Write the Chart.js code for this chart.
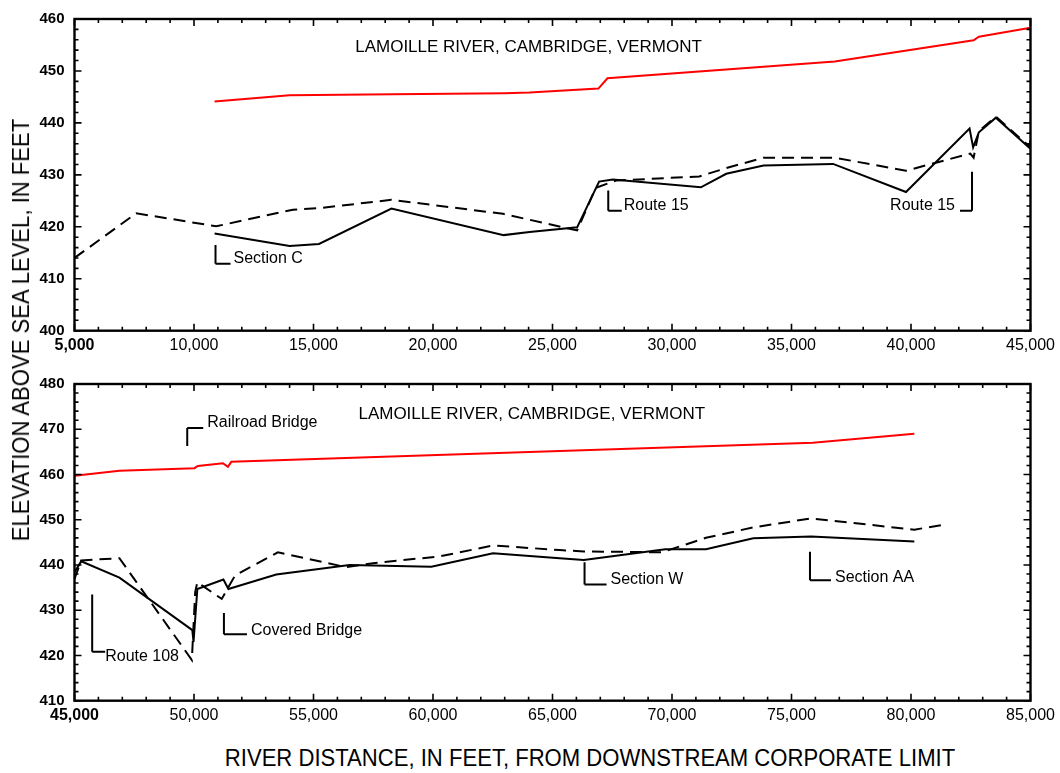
<!DOCTYPE html>
<html><head><meta charset="utf-8">
<script src="https://cdn.jsdelivr.net/npm/chart.js@4.4.0/dist/chart.umd.min.js"></script>
<style>
html,body{margin:0;padding:0;background:#fff;}
#wrap{position:relative;width:1060px;height:773px;overflow:hidden;font-family:"Liberation Sans",Arial,sans-serif;background:#fff;}
canvas{position:absolute;left:0;}
#c1{top:0;}
#c2{top:365px;}
.ttl{position:absolute;color:#000;white-space:nowrap;font-size:24px;line-height:24px;font-family:"Liberation Sans",Arial,sans-serif;}
#xt{left:590px;top:758px;transform:translate(-50%,-50%) scaleX(0.92);}
#yt{left:21px;top:330px;transform:translate(-50%,-50%) rotate(-90deg) scaleX(0.92);}
</style></head><body>
<div id="wrap">
<canvas id="c1" width="1060" height="365"></canvas>
<canvas id="c2" width="1060" height="370"></canvas>
<div id="xt" class="ttl">RIVER DISTANCE, IN FEET, FROM DOWNSTREAM CORPORATE LIMIT</div>
<div id="yt" class="ttl">ELEVATION ABOVE SEA LEVEL, IN FEET</div>
</div>
<script>
// ---------- DATA (river distance in feet, elevation in feet) ----------
// Upper panel
const topRedDist  = [10860, 14000, 18330, 23000, 24040, 26920, 27300, 36810, 42620, 42840, 45000];
const topRedElev  = [444.1, 445.3, 445.5, 445.7, 445.85, 446.6, 448.6, 451.8, 455.9, 456.6, 458.3];
const topBedDist  = [10860, 14000, 15230, 18260, 22960, 24040, 26030, 26950, 27520, 31210, 32270, 33830, 36740, 39790, 42450, 42600, 42840, 43550, 44950, 45000];
const topBedElev  = [418.7, 416.3, 416.7, 423.5, 418.4, 419.0, 419.9, 428.7, 429.1, 427.6, 430.2, 431.8, 432.1, 426.7, 438.9, 435.3, 438.2, 441.0, 435.2, 436.5];
const topDashDist = [5000, 7580, 10930, 14140, 15260, 18260, 22930, 26030, 26810, 27660, 31140, 32270, 33830, 36810, 39790, 42480, 42620, 42840, 43550, 44950, 45000];
const topDashElev = [414.0, 422.6, 420.1, 423.3, 423.6, 425.2, 422.5, 419.3, 427.5, 428.9, 429.7, 431.3, 433.3, 433.3, 430.8, 434.1, 433.3, 438.4, 441.2, 435.5, 437.0];
const topXTicks = [5000, 10000, 15000, 20000, 25000, 30000, 35000, 40000, 45000];
const topXLabels = ['5,000','10,000','15,000','20,000','25,000','30,000','35,000','40,000','45,000'];
const topYTicks = [400, 410, 420, 430, 440, 450, 460];
const topYLabels = ['400','410','420','430','440','450','460'];
// Lower panel
const botRedDist  = [45000, 46880, 50020, 50160, 51210, 51420, 51560, 65300, 75890, 80140];
const botRedElev  = [459.7, 460.85, 461.4, 461.9, 462.5, 461.7, 462.8, 465.2, 467.0, 469.0];
const botBedDist  = [45000, 45280, 46880, 49930, 49980, 50140, 51230, 51440, 53440, 56510, 59930, 62510, 65300, 66310, 69720, 71420, 73400, 75820, 80140];
const botBedElev  = [438.4, 440.8, 437.2, 425.6, 423.0, 434.7, 436.8, 434.7, 437.9, 440.0, 439.6, 442.6, 441.5, 441.1, 443.5, 443.5, 445.9, 446.3, 445.2];
const botDashDist = [45000, 45280, 46880, 49910, 50050, 50140, 50330, 51160, 51720, 53510, 56370, 57490, 60280, 62510, 65300, 66310, 69570, 71420, 73400, 75820, 80140, 81490];
const botDashElev = [436.9, 441.0, 441.5, 419.0, 434.0, 436.2, 435.5, 432.5, 437.7, 442.8, 439.5, 440.4, 441.9, 444.3, 443.3, 443.0, 442.8, 446.0, 448.3, 450.3, 447.8, 449.0];
const botXTicks = [45000, 50000, 55000, 60000, 65000, 70000, 75000, 80000, 85000];
const botXLabels = ['45,000','50,000','55,000','60,000','65,000','70,000','75,000','80,000','85,000'];
const botYTicks = [410, 420, 430, 440, 450, 460, 470, 480];
const botYLabels = ['410','420','430','440','450','460','470','480'];

const panelTitle = 'LAMOILLE RIVER, CAMBRIDGE, VERMONT';
// Annotation labels (bracket callouts), in data units
const topMarkers = [
  {text:'Section C', x:10900, y1:416.5, y2:412.9, armAt:'bottom', dir:1, arm:15, ty:413.8, gap:3},
  {text:'Route 15',  x:27333, y1:427.0, y2:423.1, armAt:'bottom', dir:1, arm:13.5, ty:424.0, gap:2},
  {text:'Route 15',  x:42553, y1:430.6, y2:423.1, armAt:'bottom', dir:-1, arm:12, ty:424.0, gap:5}
];
const botMarkers = [
  {text:'Railroad Bridge', x:49717, y1:470.3, y2:466.3, armAt:'top', dir:1, arm:16, ty:471.4, gap:4},
  {text:'Route 108', x:45740, y1:433.5, y2:420.8, armAt:'bottom', dir:1, arm:13, ty:419.7, gap:0},
  {text:'Covered Bridge', x:51252, y1:429.4, y2:424.7, armAt:'bottom', dir:1, arm:23, ty:425.6, gap:4},
  {text:'Section W', x:66341, y1:440.6, y2:435.7, armAt:'bottom', dir:1, arm:22, ty:436.8, gap:4},
  {text:'Section AA', x:75773, y1:442.9, y2:436.6, armAt:'bottom', dir:1, arm:21, ty:437.3, gap:4}
];

// ---------- helpers ----------
const FAM = '"Liberation Sans", Arial, sans-serif';
const zip = (xs, ys) => xs.map((x, i) => ({x, y: ys[i]}));

const framePlugin = {
  id: 'frameTicks',
  afterDraw(chart, args, o) {
    const {ctx, chartArea: a, scales: {x, y}} = chart;
    ctx.save();
    ctx.strokeStyle = '#000';
    ctx.lineWidth = 1.6;
    ctx.beginPath();
    for (let v = x.min; v <= x.max + 1e-6; v += o.xMinor) {
      const p = x.getPixelForValue(v);
      const L = (Math.round(v) % o.xMajor === 0) ? 7 : 4;
      ctx.moveTo(p, a.bottom); ctx.lineTo(p, a.bottom - L);
      ctx.moveTo(p, a.top); ctx.lineTo(p, a.top + L);
    }
    for (let v = y.min; v <= y.max + 1e-6; v += o.yMinor) {
      const p = y.getPixelForValue(v);
      const L = (Math.round(v) % o.yMajor === 0) ? 7 : 4;
      ctx.moveTo(a.left, p); ctx.lineTo(a.left + L, p);
      ctx.moveTo(a.right, p); ctx.lineTo(a.right - L, p);
    }
    ctx.stroke();
    ctx.lineWidth = 2.4;
    ctx.strokeRect(a.left, a.top, a.right - a.left, a.bottom - a.top);

    // title
    ctx.fillStyle = '#000';
    ctx.font = '17px ' + FAM;
    ctx.textBaseline = 'middle';
    ctx.textAlign = 'left';
    ctx.fillText(o.title, x.getPixelForValue(o.titleX), y.getPixelForValue(o.titleY));

    // markers
    ctx.font = '16px ' + FAM;
    ctx.lineWidth = 2;
    for (const m of o.markers) {
      const px = x.getPixelForValue(m.x);
      const p1 = y.getPixelForValue(m.y1), p2 = y.getPixelForValue(m.y2);
      const armY = m.armAt === 'top' ? p1 : p2;
      const ex = px + m.dir * m.arm;
      ctx.beginPath();
      ctx.moveTo(px, p1); ctx.lineTo(px, p2);
      ctx.moveTo(px, armY); ctx.lineTo(ex, armY);
      ctx.stroke();
      ctx.textAlign = m.dir > 0 ? 'left' : 'right';
      ctx.fillText(m.text, ex + m.dir * m.gap, y.getPixelForValue(m.ty));
    }
    ctx.restore();
  }
};

function makeChart(id, d) {
  return new Chart(document.getElementById(id), {
    type: 'line',
    data: {datasets: [
      {data: zip(d.redX, d.redY), borderColor: '#ff0000', borderWidth: 2},
      {data: zip(d.bedX, d.bedY), borderColor: '#000000', borderWidth: 2},
      {data: zip(d.dashX, d.dashY), borderColor: '#000000', borderWidth: 2, borderDash: [12, 7]}
    ]},
    options: {
      responsive: false, animation: false, devicePixelRatio: 1,
      layout: {padding: {left: 0, right: 29.5, top: d.padTop, bottom: 0}},
      elements: {point: {radius: 0}, line: {tension: 0, fill: false}},
      plugins: {
        legend: {display: false}, tooltip: {enabled: false},
        frameTicks: {xMinor: 1000, xMajor: 5000, yMinor: 2, yMajor: 10,
          markers: d.markers, title: panelTitle, titleX: d.titleX, titleY: d.titleY}
      },
      scales: {
        x: {
          type: 'linear', min: d.xTicks[0], max: d.xTicks[d.xTicks.length - 1],
          afterBuildTicks: s => { s.ticks = d.xTicks.map(v => ({value: v})); },
          afterFit: s => { s.height = 34.3; },
          grid: {display: false, drawTicks: false}, border: {display: false},
          ticks: {
            autoSkip: false, maxRotation: 0, padding: 5, color: '#000',
            callback: (v, i) => d.xLabels[i],
            font: c => ({family: FAM, size: 16, weight: c.index === 0 ? 'bold' : 'normal'})
          }
        },
        y: {
          type: 'linear', min: d.yTicks[0], max: d.yTicks[d.yTicks.length - 1],
          afterBuildTicks: s => { s.ticks = d.yTicks.map(v => ({value: v})); },
          afterFit: s => { s.width = 74.5; },
          grid: {display: false, drawTicks: false}, border: {display: false},
          ticks: {
            padding: 10, color: '#000',
            callback: (v, i) => d.yLabels[i],
            font: {family: FAM, size: 15, weight: 'bold'}
          }
        }
      }
    },
    plugins: [framePlugin]
  });
}

makeChart('c1', {
  redX: topRedDist, redY: topRedElev, bedX: topBedDist, bedY: topBedElev,
  dashX: topDashDist, dashY: topDashElev,
  xTicks: topXTicks, xLabels: topXLabels, yTicks: topYTicks, yLabels: topYLabels,
  markers: topMarkers, titleX: 16745, titleY: 454.5, padTop: 13.3
});
makeChart('c2', {
  redX: botRedDist, redY: botRedElev, bedX: botBedDist, bedY: botBedElev,
  dashX: botDashDist, dashY: botDashElev,
  xTicks: botXTicks, xLabels: botXLabels, yTicks: botYTicks, yLabels: botYLabels,
  markers: botMarkers, titleX: 56880, titleY: 473.3, padTop: 17.7
});
</script>
</body></html>
